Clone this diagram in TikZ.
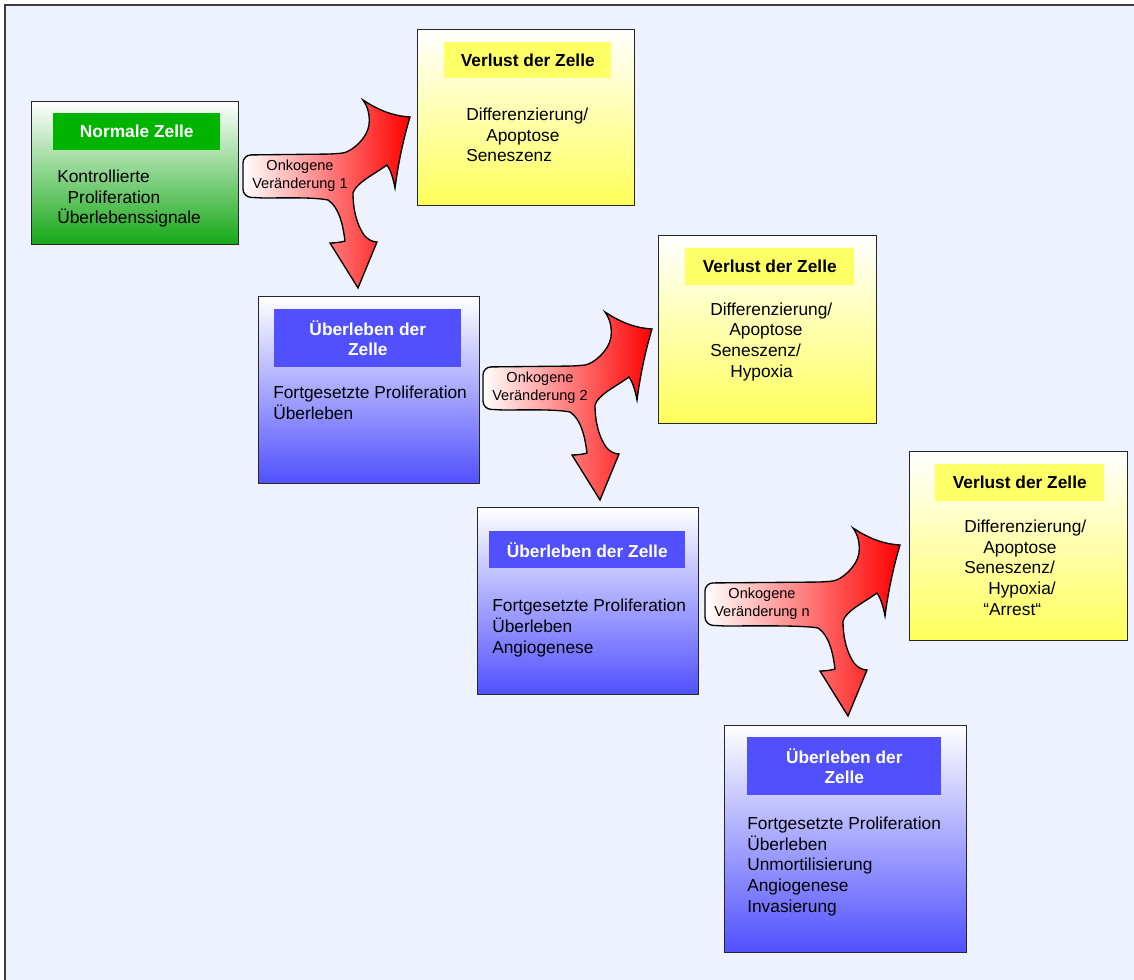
\documentclass[tikz,border=0pt]{standalone}
\usepackage{fontspec}
\setmainfont{Liberation Sans}
\usetikzlibrary{calc}

\definecolor{bgblue}{RGB}{238,242,254}
\definecolor{frameline}{RGB}{60,60,60}
\definecolor{zgreen}{RGB}{0,180,0}
\definecolor{zgreendark}{RGB}{22,168,22}
\definecolor{zblue}{RGB}{80,80,255}
\definecolor{zyellow}{RGB}{255,255,102}
\definecolor{zyellowdark}{RGB}{255,255,90}

\tikzset{
  boxsize/.style n args={2}{minimum width={#1*0.75pt}, minimum height={#2*0.75pt}},
  cellbox/.style={draw=black!85, line width=1.1pt, anchor=north west, inner sep=0pt},
  greencell/.style={cellbox, top color=white, bottom color=zgreendark},
  bluecell/.style={cellbox, top color=white, bottom color=zblue},
  yellowcell/.style={cellbox, top color=white, bottom color=zyellowdark},
  hdr/.style={anchor=north west, inner sep=0pt, align=center,
    font=\fontsize{13}{15}\bfseries\selectfont},
  % base = Grundlinie der letzten Zeile
  celltext/.style={anchor=base west, inner sep=0pt, align=left,
    font=\fontsize{13}{15.5}\selectfont},
  mutshape/.style={draw=black, line width=1pt, left color=white, right color=red},
  mutlabel/.style={inner sep=0pt, align=center, font=\fontsize{10.9}{13.7}\selectfont},
  pics/forkarrow/.style n args={2}{code={
    \def\e{#2}
    \path[mutshape] (0,20) [rounded corners=6pt] -- (0,0) -- ({92+\e},-1) [sharp corners]
      .. controls ({108+\e},-3) and ({124+\e},-16) .. ({126+\e},-30)
      .. controls ({127+\e},-40) and ({125+\e},-48) .. ({120+\e},-55)
      .. controls ({135+\e},-45) and ({150+\e},-39) .. ({167+\e},-38)
      .. controls ({160+\e},-15) and ({155+\e},10) .. ({152+\e},33)
      .. controls ({150+\e},22) and ({147+\e},14) .. ({144+\e},10)
      .. controls ({130+\e},20) and ({113+\e},28) .. ({110+\e},38)
      .. controls ({110+\e},55) and ({114+\e},70) .. ({121+\e},80)
      .. controls ({125+\e},85) and ({130+\e},87) .. ({134+\e},87)
      -- ({115+\e},133) -- ({87+\e},88)
      .. controls ({93+\e},88) and ({99+\e},87) .. ({102+\e},86)
      .. controls ({100+\e},70) and ({96+\e},52) .. ({85+\e},45)
      .. controls ({70+\e},42) and (40,43) .. (20,43)
      [rounded corners=6pt] -- (0,42) -- cycle;
    \node[mutlabel] (-lbl) at (57,21) {#1};
  }}
}

\begin{document}
\begin{tikzpicture}[x=0.75pt, y=-0.75pt]
  \clip (0,0) rectangle (1134,980);
  % Hintergrund
  \path[fill=bgblue, draw=frameline, line width=1.3pt] (5,5) rectangle (1150,1000);

  % Zellen
  \node[greencell, boxsize={207}{143}] (normal) at (31,101) {};
  \node[yellowcell, boxsize={217}{176}] (loss1) at (417,29) {};
  \node[bluecell, boxsize={221}{187}] (surv1) at (258,296) {};
  \node[yellowcell, boxsize={218}{188}] (loss2) at (658,235) {};
  \node[bluecell, boxsize={221}{187}] (surv2) at (477,507) {};
  \node[yellowcell, boxsize={218}{189}] (loss3) at (909,451) {};
  \node[bluecell, boxsize={242}{227}] (surv3) at (724,725) {};

  % Ueberschriften
  \node[hdr, fill=zgreen, text=white, boxsize={167}{37}] (normalhdr) at (53,113) {Normale Zelle};
  \node[hdr, fill=zyellow, boxsize={167}{36}] (loss1hdr) at (444,42) {Verlust der Zelle};
  \node[hdr, fill=zblue, text=white, boxsize={187}{58}] (surv1hdr) at (274,309) {Überleben der\\Zelle};
  \node[hdr, fill=zyellow, boxsize={169}{37}] (loss2hdr) at (685,248) {Verlust der Zelle};
  \node[hdr, fill=zblue, text=white, boxsize={196}{37}] (surv2hdr) at (489,531) {Überleben der Zelle};
  \node[hdr, fill=zyellow, boxsize={169}{37}] (loss3hdr) at (935,464) {Verlust der Zelle};
  \node[hdr, fill=zblue, text=white, boxsize={194}{58}] (surv3hdr) at (747,737) {Überleben der\\Zelle};

  % Texte
  \node[celltext] (normaltxt) at (57,224) {Kontrollierte\\\hspace*{7.8pt}Proliferation\\Überlebenssignale};
  \node[celltext] (loss1txt) at (466,162) {Differenzierung/\\\hspace*{15pt}Apoptose\\Seneszenz};
  \node[celltext] (surv1txt) at (273,419) {Fortgesetzte Proliferation\\Überleben};
  \node[celltext] (loss2txt) at (710,377) {Differenzierung/\\\hspace*{14.3pt}Apoptose\\Seneszenz/\\\hspace*{15pt}Hypoxia};
  \node[celltext] (surv2txt) at (492,653) {Fortgesetzte Proliferation\\Überleben\\Angiogenese};
  \node[celltext] (loss3txt) at (964,615) {Differenzierung/\\\hspace*{14.3pt}Apoptose\\Seneszenz/\\\hspace*{18pt}Hypoxia/\\\hspace*{14.3pt}“Arrest“};
  \node[celltext] (surv3txt) at (747,912) {Fortgesetzte Proliferation\\Überleben\\Unmortilisierung\\Angiogenese\\Invasierung};

  % Onkogene Veraenderungen
  \pic (mut1) at (243,155) {forkarrow={Onkogene\\Veränderung 1}{0}};
  \pic (mut2) at (483,367) {forkarrow={Onkogene\\Veränderung 2}{2}};
  \pic (mutn) at (705,583) {forkarrow={Onkogene\\Veränderung n}{28}};
\end{tikzpicture}
\end{document}
